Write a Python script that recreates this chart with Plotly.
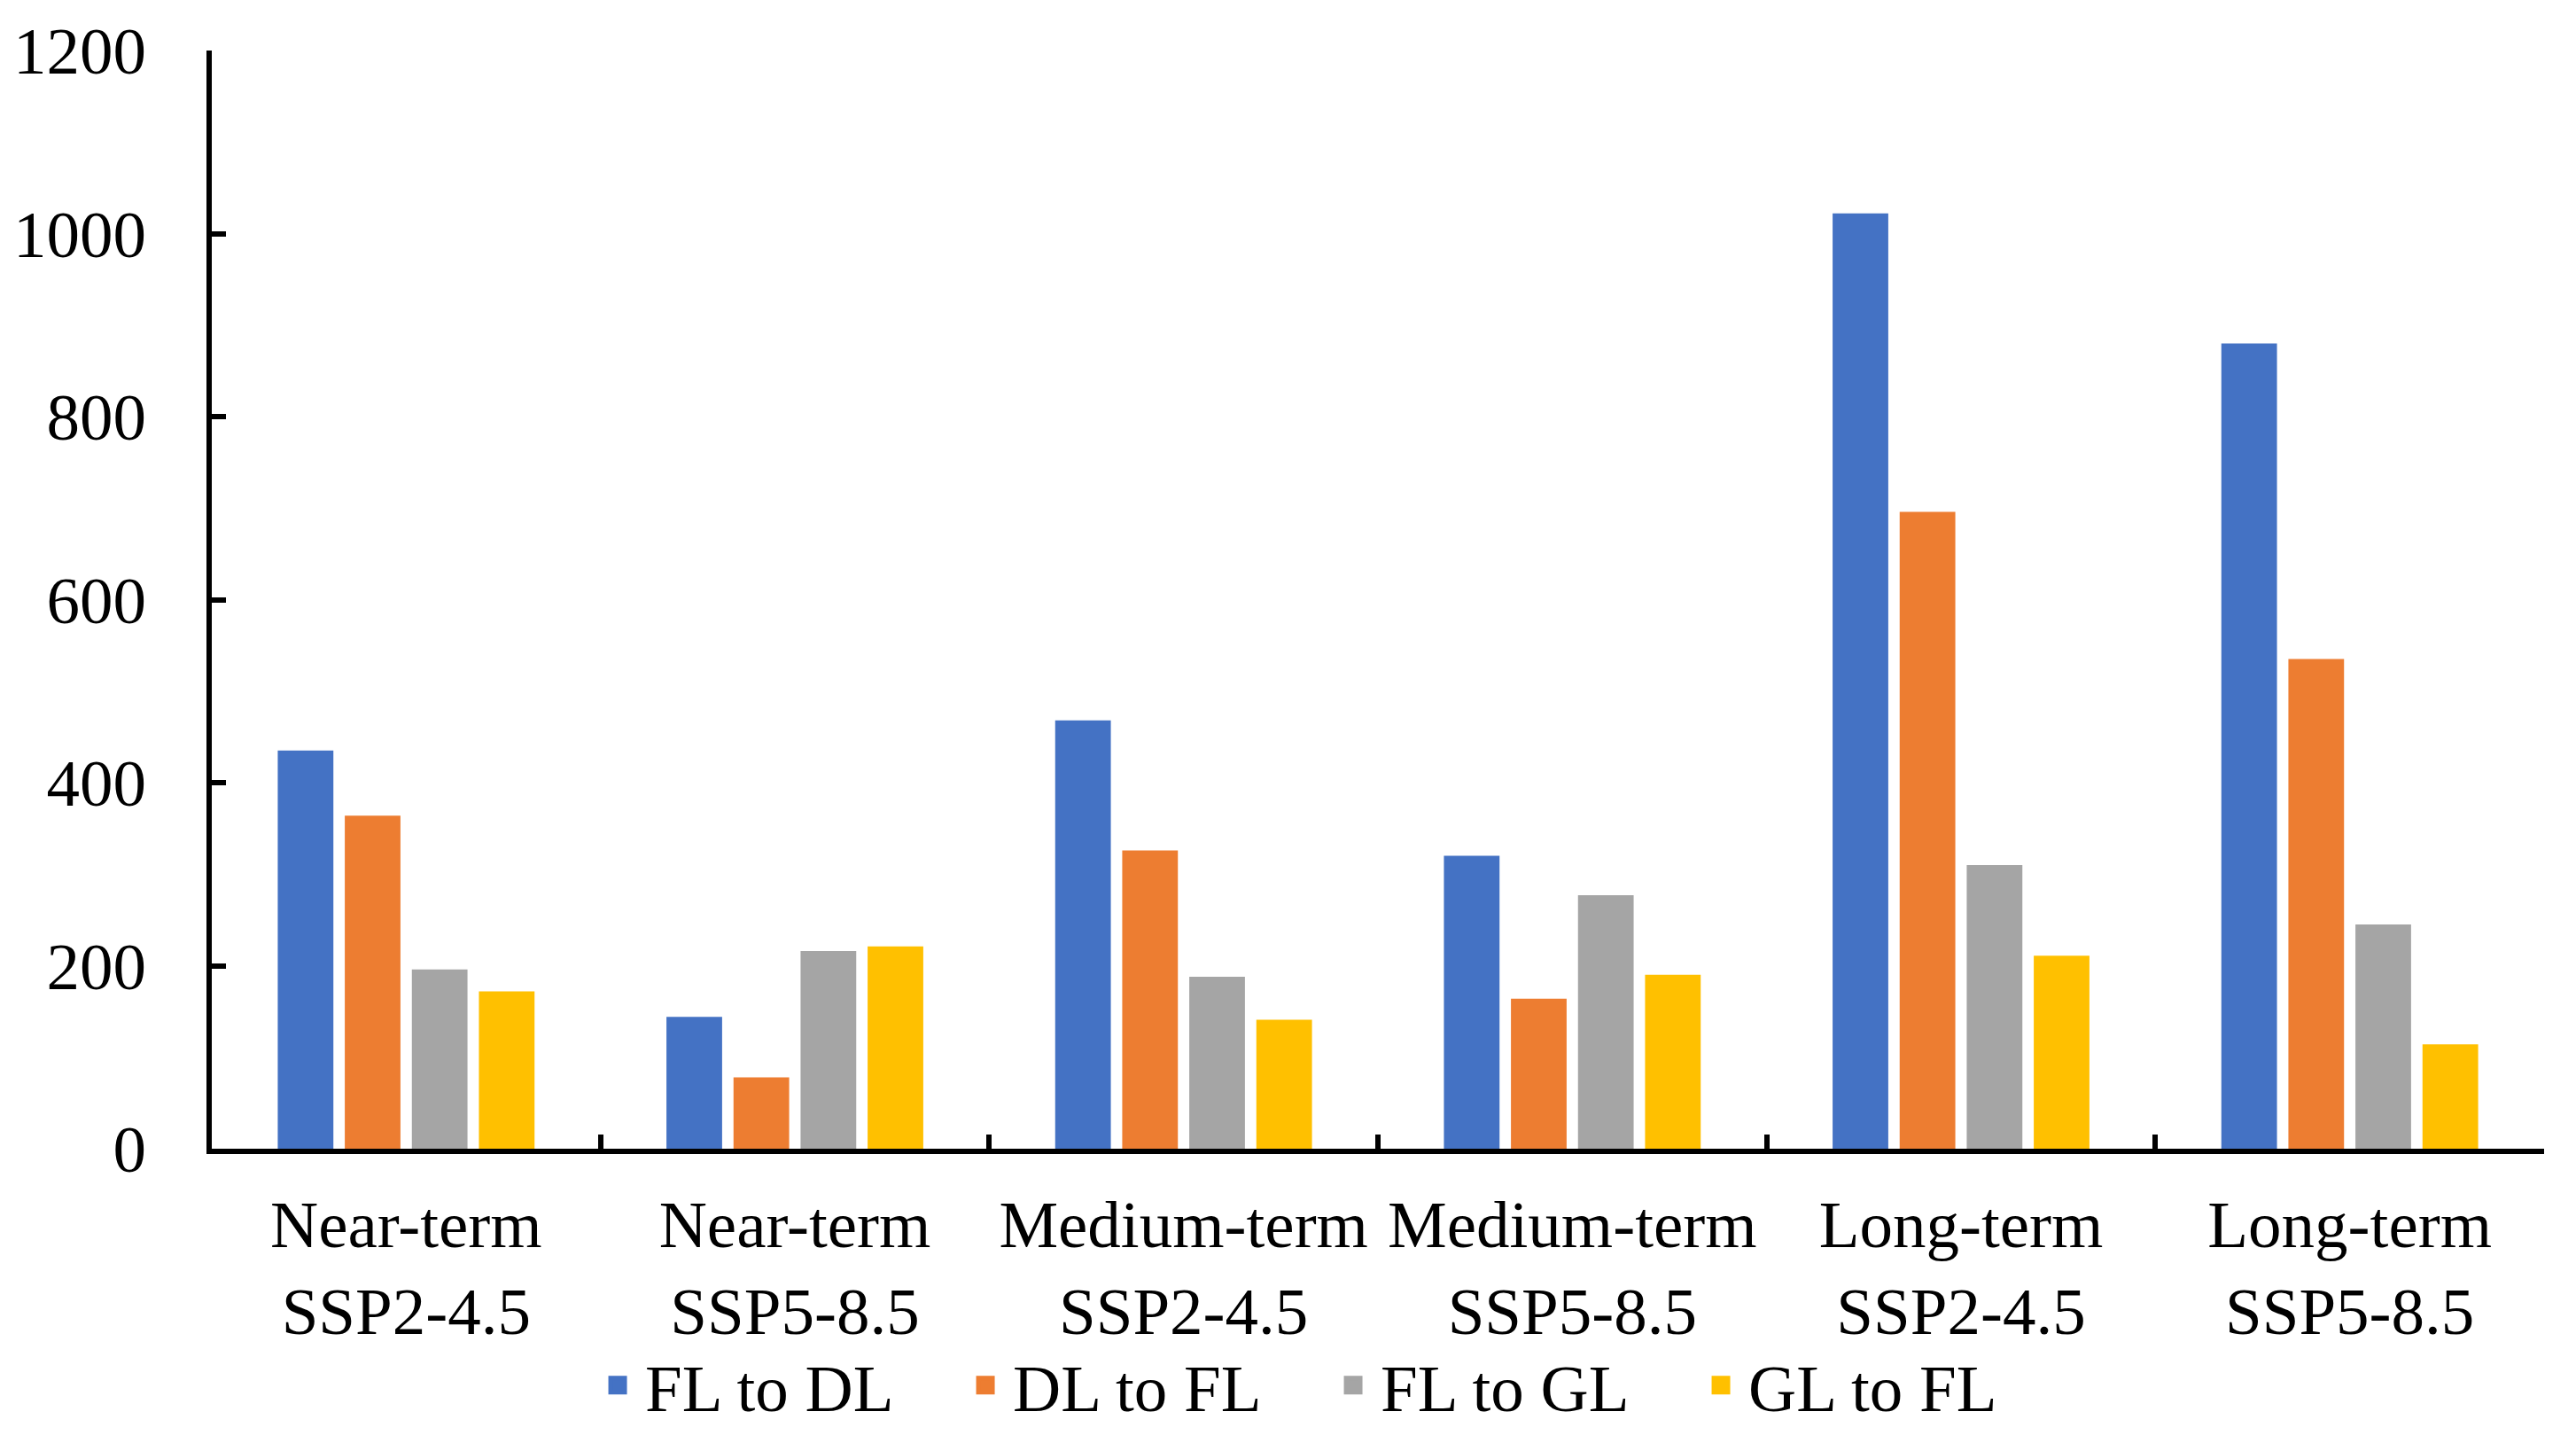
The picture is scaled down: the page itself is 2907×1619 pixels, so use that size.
import plotly.graph_objects as go

categories = ["Near-term<br>SSP2-4.5", "Near-term<br>SSP5-8.5", "Medium-term<br>SSP2-4.5",
              "Medium-term<br>SSP5-8.5", "Long-term<br>SSP2-4.5", "Long-term<br>SSP5-8.5"]
series_names = ["FL to DL", "DL to FL", "FL to GL", "GL to FL"]
fl_to_dl = [435, 144, 468, 320, 1022, 880]
dl_to_fl = [364, 78, 326, 164, 696, 535]
fl_to_gl = [196, 216, 188, 277, 310, 245]
gl_to_fl = [172, 221, 141, 190, 211, 114]
colors = ["#4472C4", "#ED7D31", "#A5A5A5", "#FFC000"]
y_ticks = [0, 200, 400, 600, 800, 1000, 1200]

FONT = "Liberation Serif, Times New Roman, serif"

fig = go.Figure()
for name, vals, col in zip(series_names, [fl_to_dl, dl_to_fl, fl_to_gl, gl_to_fl], colors):
    fig.add_trace(go.Bar(x=categories, y=vals, name=name, legendgroup=name, showlegend=False,
                         marker=dict(color=col, line=dict(width=0))))
for name, col in zip(series_names, colors):
    # legend swatch (larger square than the default bar icon)
    fig.add_trace(go.Scatter(x=[None], y=[None], mode="markers", name=name, legendgroup=name,
                             marker=dict(symbol="square", size=16, color=col,
                                         line=dict(color=col, width=5))))

fig.update_layout(
    width=2907, height=1619,
    paper_bgcolor="white", plot_bgcolor="white",
    margin=dict(l=231, r=44, t=49, b=331, autoexpand=False),
    font=dict(family=FONT, size=75, color="black"),
    barmode="group", bargap=0.31, bargroupgap=0.17,
    showlegend=True,
    legend=dict(orientation="h", x=0.4776, xanchor="center", y=-0.2155, yanchor="middle",
                font=dict(family=FONT, size=75, color="black"),
                itemwidth=52, entrywidth=348, traceorder="normal", bgcolor="rgba(0,0,0,0)"),
)
fig.update_xaxes(
    type="category", showline=True, linecolor="black", linewidth=6, automargin=False,
    ticks="inside", tickson="boundaries", ticklen=16, tickwidth=6, tickcolor="black",
    showgrid=False, zeroline=False, ticklabelstandoff=15,
    tickfont=dict(family=FONT, size=75, color="black"),
)
fig.update_yaxes(
    range=[0, 1200], tickvals=y_ticks, showline=True, linecolor="black", linewidth=6, automargin=False,
    ticks="inside", ticklen=16, tickwidth=6, tickcolor="black",
    showgrid=False, zeroline=False, ticklabelstandoff=53,
    tickfont=dict(family=FONT, size=75, color="black"),
)
fig.write_html("out.html")
